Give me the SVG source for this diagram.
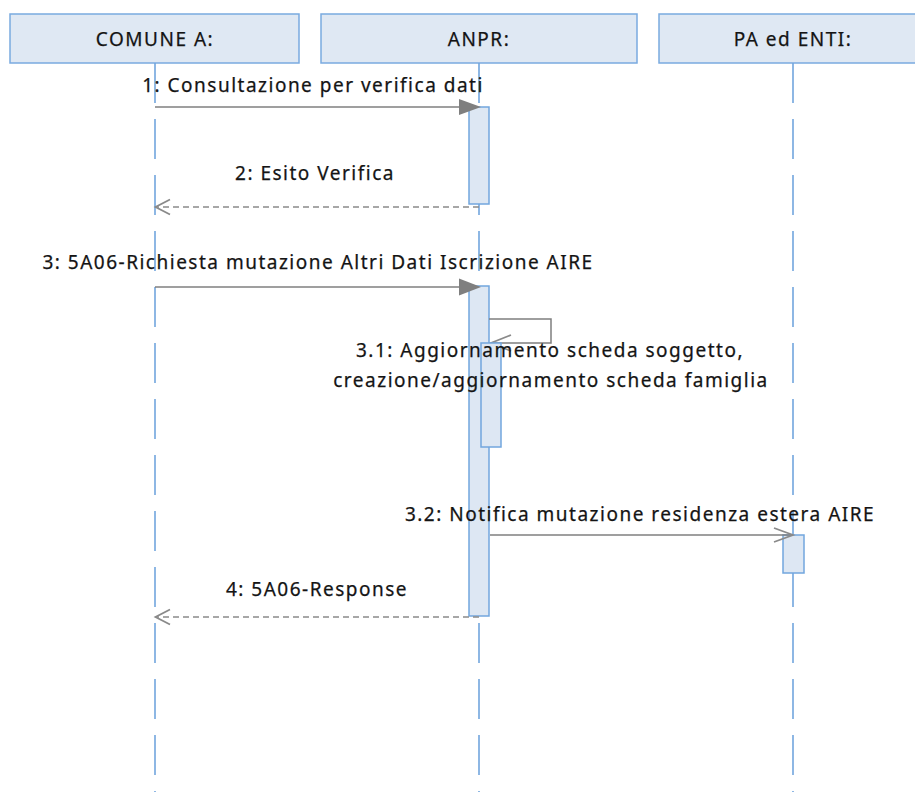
<svg xmlns="http://www.w3.org/2000/svg" width="915" height="792" viewBox="0 0 915 792">
<defs>
<style>
.hdr{fill:#dfe8f3;stroke:#7aaae0;stroke-width:1.5}
.life{stroke:#72a6de;stroke-width:1.6;stroke-dasharray:40 16;fill:none}
.act{fill:#dde7f3;stroke:#72a6de;stroke-width:1.5}
.t{font-family:"Noto Sans","Open Sans","DejaVu Sans",sans-serif;font-size:19px;fill:#141414;stroke:#141414;stroke-width:0.25;letter-spacing:1.5px;text-anchor:middle}
.msg{stroke:#7f7f7f;stroke-width:1.5;fill:none}
.ret{stroke:#8a8a8a;stroke-width:1.5;fill:none;stroke-dasharray:6 4}
.open{stroke:#8a8a8a;stroke-width:1.8;fill:none}
.fill{fill:#7f7f7f;stroke:none}
</style>
</defs>
<rect width="915" height="792" fill="#ffffff"/>

<g id="comune">
<rect class="hdr" x="10" y="14" width="289" height="49"/>
<text class="t" x="155" y="46">COMUNE A:</text>
<line class="life" x1="155" y1="63" x2="155" y2="792"/>
</g>

<g id="anpr">
<rect class="hdr" x="321" y="14" width="316" height="49"/>
<text class="t" x="479" y="46">ANPR:</text>
<line class="life" x1="479" y1="63" x2="479" y2="792"/>
<rect class="act" x="469" y="107" width="20" height="97"/>
<rect class="act" x="469" y="286" width="20" height="330"/>
</g>

<g id="pa">
<rect class="hdr" x="659" y="14" width="268" height="49"/>
<text class="t" x="793" y="46">PA ed ENTI:</text>
<line class="life" x1="793" y1="63" x2="793" y2="792"/>
<rect class="act" x="783" y="535" width="21" height="38"/>
</g>

<g id="connectors">
<line class="msg" x1="155" y1="107" x2="462" y2="107"/>
<polygon class="fill" points="459,99 481,107 459,115"/>
<line class="ret" x1="479" y1="207" x2="157" y2="207"/>
<polyline class="open" points="170,199.5 155.5,207 170,214.5"/>
<line class="msg" x1="155" y1="287" x2="462" y2="287"/>
<polygon class="fill" points="459,278.5 481,287 459,295.5"/>
<polyline class="msg" points="489,319 551,319 551,343 491,343"/>
<polyline class="open" points="511,335 491,343 511,351"/>
<line class="msg" x1="490" y1="535" x2="791" y2="535"/>
<polyline class="open" points="774,528 793,535 774,542"/>
<line class="ret" x1="479" y1="617" x2="157" y2="617"/>
<polyline class="open" points="170,609.5 155.5,617 170,624.5"/>
</g>

<g id="anpr-nested">
<rect class="act" x="481" y="343" width="20" height="104"/>
</g>

<g id="labels">
<text class="t" x="313" y="92">1: Consultazione per verifica dati</text>
<text class="t" x="315" y="180">2: Esito Verifica</text>
<text class="t" x="318" y="269">3: 5A06-Richiesta mutazione Altri Dati Iscrizione AIRE</text>
<text class="t" x="550" y="357">3.1: Aggiornamento scheda soggetto,</text>
<text class="t" x="551" y="387">creazione/aggiornamento scheda famiglia</text>
<text class="t" x="640" y="521">3.2: Notifica mutazione residenza estera AIRE</text>
<text class="t" x="317" y="596">4: 5A06-Response</text>
</g>
</svg>
